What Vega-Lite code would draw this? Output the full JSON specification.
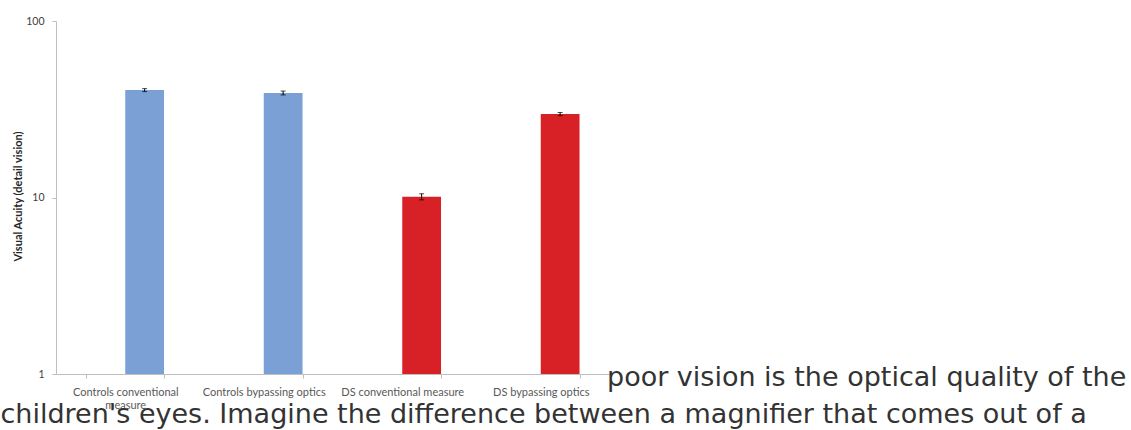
{
  "$schema": "https://vega.github.io/schema/vega-lite/v6.json",
  "width": 554,
  "height": 353,
  "autosize": {"type": "none"},
  "padding": {"left": 56, "top": 21, "right": 521, "bottom": 56},
  "background": "white",
  "title": {
    "text": "poor vision is the optical quality of the",
    "anchor": "start",
    "frame": "group",
    "orient": "top",
    "offset": 0,
    "dx": 551,
    "dy": 397,
    "baseline": "alphabetic",
    "font": "DejaVu Sans",
    "fontSize": 27,
    "fontWeight": "normal",
    "color": "#333333"
  },
  "data": {
    "values": [
      {"group": "Controls conventional measure", "cohort": "Controls", "series": "Visual acuity", "acuity": 40.6, "lower": 39.8, "upper": 41.4},
      {"group": "Controls bypassing optics", "cohort": "Controls", "series": "Visual acuity", "acuity": 39.1, "lower": 38.1, "upper": 40.1},
      {"group": "DS conventional measure", "cohort": "DS", "series": "Visual acuity", "acuity": 10.1, "lower": 9.7, "upper": 10.5},
      {"group": "DS bypassing optics", "cohort": "DS", "series": "Visual acuity", "acuity": 29.7, "lower": 29.1, "upper": 30.3}
    ]
  },
  "encoding": {
    "x": {
      "field": "group",
      "type": "nominal",
      "sort": null,
      "scale": {"paddingInner": 0.44, "paddingOuter": 0.22},
      "axis": {
        "title": "children's eyes. Imagine the difference between a magnifier that comes out of a",
        "titleX": -56,
        "titleY": 48,
        "titleAlign": "left",
        "titleAnchor": "start",
        "titleBaseline": "alphabetic",
        "titleFont": "DejaVu Sans",
        "titleFontSize": 27,
        "titleFontWeight": "normal",
        "titleColor": "#333333",
        "labelAngle": 0,
        "labelFont": "Lato",
        "labelFontSize": 11,
        "labelColor": "#595959",
        "labelPadding": 8,
        "labelLineHeight": 13,
        "labelOverlap": false,
        "labelExpr": "datum.label == 'Controls conventional measure' ? ['Controls conventional', 'measure'] : datum.label",
        "tickBand": "extent",
        "tickSize": 4,
        "tickColor": "#bfbfbf",
        "domainColor": "#bfbfbf"
      }
    },
    "xOffset": {
      "field": "series",
      "type": "nominal",
      "scale": {"domain": ["(empty)", "Visual acuity"], "paddingInner": 0, "paddingOuter": 0}
    }
  },
  "layer": [
    {
      "mark": {"type": "bar"},
      "encoding": {
        "y": {
          "field": "acuity",
          "type": "quantitative",
          "title": "Visual Acuity (detail vision)",
          "scale": {"type": "log", "domain": [1, 100]},
          "axis": {
            "values": [1, 10, 100],
            "format": "d",
            "grid": false,
            "tickSize": 4,
            "tickColor": "#bfbfbf",
            "domainColor": "#bfbfbf",
            "labelPadding": 8,
            "labelFont": "Lato",
            "labelFontSize": 10.5,
            "labelColor": "#404040",
            "titleFont": "Lato",
            "titleFontSize": 11,
            "titleFontWeight": "bold",
            "titleColor": "#262626",
            "titleX": -38,
            "titleY": 175,
            "titleAngle": 270,
            "titleAlign": "center",
            "titleBaseline": "middle"
          }
        },
        "y2": {"datum": 1},
        "color": {
          "field": "cohort",
          "type": "nominal",
          "scale": {"domain": ["Controls", "DS"], "range": ["#7ba0d6", "#d82027"]},
          "legend": null
        }
      }
    },
    {
      "mark": {"type": "rule", "color": "#000000", "strokeWidth": 1},
      "encoding": {
        "y": {"field": "lower", "type": "quantitative", "title": "Visual Acuity (detail vision)"},
        "y2": {"field": "upper"}
      }
    },
    {
      "mark": {"type": "tick", "color": "#000000", "size": 5, "thickness": 1, "orient": "horizontal"},
      "encoding": {
        "y": {"field": "lower", "type": "quantitative", "title": "Visual Acuity (detail vision)"}
      }
    },
    {
      "mark": {"type": "tick", "color": "#000000", "size": 5, "thickness": 1, "orient": "horizontal"},
      "encoding": {
        "y": {"field": "upper", "type": "quantitative", "title": "Visual Acuity (detail vision)"}
      }
    }
  ],
  "config": {"view": {"stroke": null}}
}
